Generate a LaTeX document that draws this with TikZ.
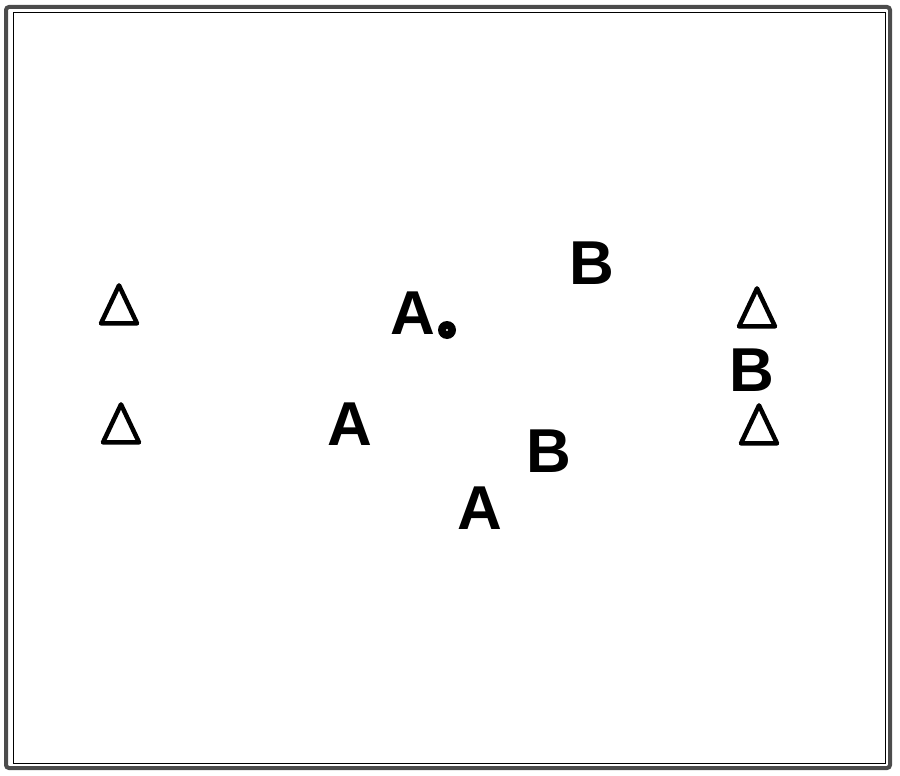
\documentclass[tikz,border=0pt]{standalone}
\usepackage{fontspec}
\setmainfont{Liberation Sans}
\usetikzlibrary{shapes.geometric}

\begin{document}
\begin{tikzpicture}[x=1pt, y=-1pt,
  player/.style={inner sep=0pt, font=\fontsize{62}{62}\selectfont\bfseries},
  cone/.style={draw, line width=4.5pt, line join=round, fill=white,
    isosceles triangle, isosceles triangle stretches, shape border rotate=90,
    minimum width=36pt, minimum height=38pt, inner sep=0pt},
  ball/.style={circle, fill=black, minimum size=18pt, inner sep=0pt}]
\useasboundingbox (0,0) rectangle (900,776);
% frame
\draw[black!70, line width=4pt, rounded corners=3pt] (6,7) rectangle (890,768);
\draw[line width=1pt] (13,13) rectangle (885,763);
% cones
\node[cone] (cone1) at (119,312) {};
\node[cone] (cone2) at (121,431) {};
\node[cone] (cone3) at (757,315) {};
\node[cone] (cone4) at (759,432) {};
% players
\node[player] (a1) at (413,313) {A};
\node[player] (a2) at (350,424) {A};
\node[player] (a3) at (480,508) {A};
\node[player] (b1) at (592,263) {B};
\node[player] (b2) at (752,370) {B};
\node[player] (b3) at (549,451) {B};
% ball
\node[ball] (ball) at (447,330) {};
\fill[white] (ball.center) circle (1.2pt);
\end{tikzpicture}
\end{document}
